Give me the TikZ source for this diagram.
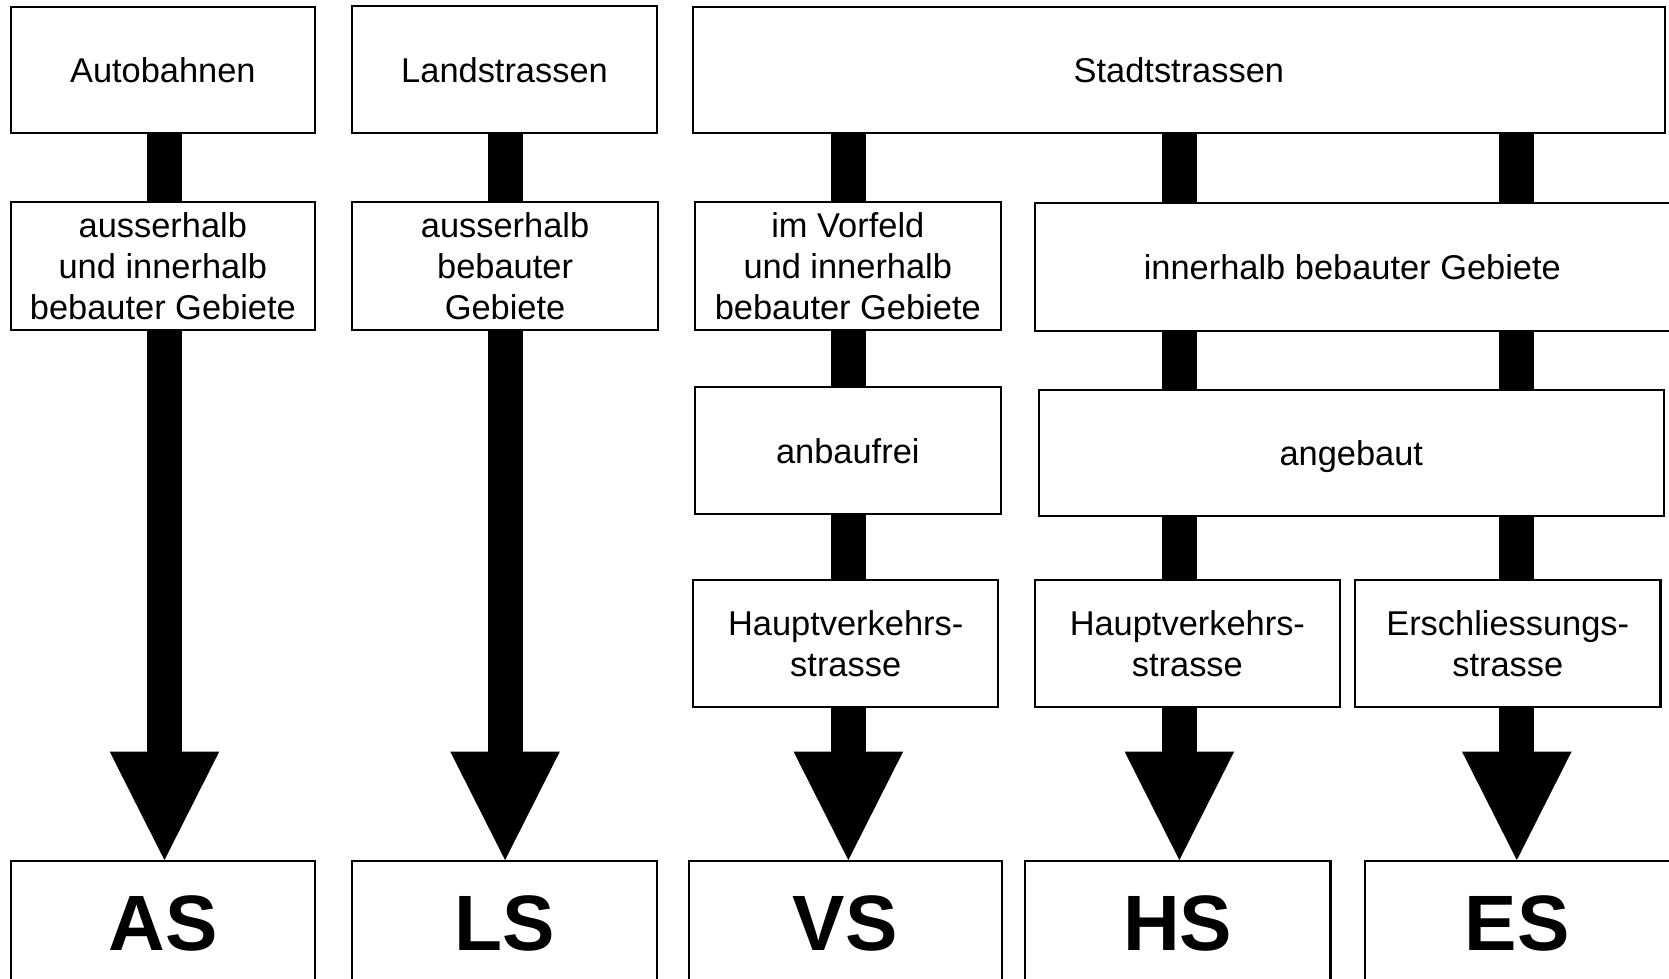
\documentclass[tikz,border=0pt]{standalone}
\usepackage{fontspec}
\setmainfont{Liberation Sans}
\usetikzlibrary{arrows.meta}
\begin{document}
\begin{tikzpicture}[x=0.02cm,y=-0.02cm,
  box/.style={draw,line width=1.1pt,fill=white,inner sep=0pt,align=center,
    font=\fontsize{18.4}{22.1}\selectfont},
  oneline/.style={box,text depth=0pt},
  tag/.style={box,font=\fontsize{42}{48}\selectfont\bfseries},
  bar/.style={line width=0.66cm},
  down/.style={bar,-{Triangle[width=2.06cm,length=2.04cm,line width=0pt]}}]
\useasboundingbox (0,0) rectangle (1568,919);
\clip (0,0) rectangle (1568,919);

% column axes of the five branches
\coordinate (c1) at (154.5,0);
\coordinate (c2) at (474.5,0);
\coordinate (c3) at (797,0);
\coordinate (c4) at (1108,0);
\coordinate (c5) at (1425,0);

% top level
\node[oneline,minimum width=5.72cm,minimum height=2.36cm] (auto) at (153,66) {Autobahnen};
\node[oneline,minimum width=5.72cm,minimum height=2.38cm] (land) at (474,65.5) {Landstrassen};
\node[oneline,minimum width=18.26cm,minimum height=2.36cm] (stadt) at (1107.5,66) {Stadtstrassen};

% location
\node[box,minimum width=5.72cm,minimum height=2.40cm] (aui) at (153,250)
  {ausserhalb\\und innerhalb\\bebauter Gebiete};
\node[box,minimum width=5.74cm,minimum height=2.40cm] (ab) at (474.5,250)
  {ausserhalb\\bebauter\\Gebiete};
\node[box,minimum width=5.74cm,minimum height=2.40cm] (vorfeld) at (796.5,250)
  {im Vorfeld\\und innerhalb\\bebauter Gebiete};
\node[oneline,minimum width=11.94cm,minimum height=2.40cm] (inner) at (1270.5,251)
  {innerhalb bebauter Gebiete};

% building along the road
\node[oneline,minimum width=5.74cm,minimum height=2.38cm] (frei) at (796.5,423.5) {anbaufrei};
\node[oneline,minimum width=11.74cm,minimum height=2.38cm] (gebaut) at (1269.5,425.5) {angebaut};

% function
\node[box,minimum width=5.74cm,minimum height=2.38cm] (hv1) at (794.5,604.5)
  {Hauptverkehrs-\\strasse};
\node[box,minimum width=5.74cm,minimum height=2.38cm] (hv2) at (1115.5,604.5)
  {Hauptverkehrs-\\strasse};
\node[box,minimum width=5.74cm,minimum height=2.38cm] (er) at (1416.5,604.5)
  {Erschliessungs-\\strasse};

% road types
\node[tag,minimum width=5.72cm,minimum height=2.36cm] (AS) at (153,868) {AS};
\node[tag,minimum width=5.72cm,minimum height=2.36cm] (LS) at (474,868) {LS};
\node[tag,minimum width=5.88cm,minimum height=2.36cm] (VS) at (794,868) {VS};
\node[tag,minimum width=5.74cm,minimum height=2.36cm] (HS) at (1106.5,868) {HS};
\node[tag,minimum width=5.74cm,minimum height=2.36cm] (ES) at (1425.5,868) {ES};

% links
\draw[bar] (auto.south -| c1) -- (aui.north -| c1);
\draw[down] (aui.south -| c1) -- (AS.north -| c1);

\draw[bar] (land.south -| c2) -- (ab.north -| c2);
\draw[down] (ab.south -| c2) -- (LS.north -| c2);

\draw[bar] (stadt.south -| c3) -- (vorfeld.north -| c3);
\draw[bar] (vorfeld.south -| c3) -- (frei.north -| c3);
\draw[bar] (frei.south -| c3) -- (hv1.north -| c3);
\draw[down] (hv1.south -| c3) -- (VS.north -| c3);

\draw[bar] (stadt.south -| c4) -- (inner.north -| c4);
\draw[bar] (inner.south -| c4) -- (gebaut.north -| c4);
\draw[bar] (gebaut.south -| c4) -- (hv2.north -| c4);
\draw[down] (hv2.south -| c4) -- (HS.north -| c4);

\draw[bar] (stadt.south -| c5) -- (inner.north -| c5);
\draw[bar] (inner.south -| c5) -- (gebaut.north -| c5);
\draw[bar] (gebaut.south -| c5) -- (er.north -| c5);
\draw[down] (er.south -| c5) -- (ES.north -| c5);
\end{tikzpicture}
\end{document}
